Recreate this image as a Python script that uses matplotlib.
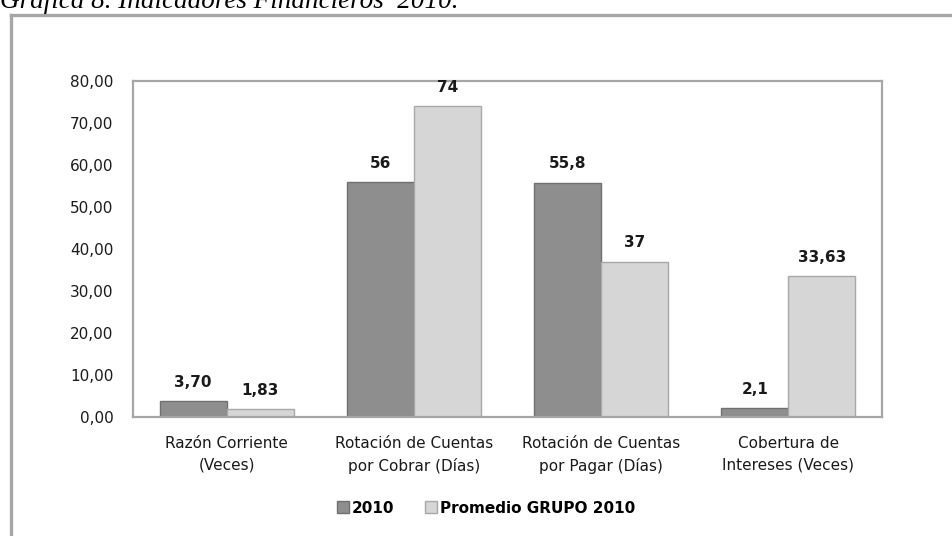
import matplotlib.pyplot as plt
import numpy as np
from matplotlib.lines import Line2D
from matplotlib.patches import Patch
from matplotlib.ticker import FuncFormatter

plt.rcParams['font.family'] = ['DejaVu Sans']

# Datos de la gráfica
categorias = ["Razón Corriente\n(Veces)",
              "Rotación de Cuentas\npor Cobrar (Días)",
              "Rotación de Cuentas\npor Pagar (Días)",
              "Cobertura de\nIntereses (Veces)"]
serie_2010 = [3.70, 56, 55.8, 2.1]
serie_grupo = [1.83, 74, 37, 33.63]
etiquetas_2010 = ["3,70", "56", "55,8", "2,1"]
etiquetas_grupo = ["1,83", "74", "37", "33,63"]
nombres_series = ["2010", "Promedio GRUPO 2010"]

color_oscuro = "#8e8e8e"
color_claro = "#d6d6d6"
borde = "#a6a6a6"

fig = plt.figure(figsize=(9.53, 5.36), dpi=100)
ax = fig.add_axes([0.1396, 0.222, 0.7859, 0.627])

x = np.arange(len(categorias))
ancho = 0.358

b1 = ax.bar(x - ancho / 2, serie_2010, ancho, color=color_oscuro,
            edgecolor="#707070", linewidth=1.0)
b2 = ax.bar(x + ancho / 2, serie_grupo, ancho, color=color_claro,
            edgecolor="#a8a8a8", linewidth=1.0)

# Etiquetas de valor sobre cada barra
for barras, etiquetas in [(b1, etiquetas_2010), (b2, etiquetas_grupo)]:
    for barra, texto in zip(barras, etiquetas):
        ax.annotate(texto, (barra.get_x() + barra.get_width() / 2, barra.get_height()),
                    xytext=(0, 8), textcoords="offset points", ha="center",
                    va="bottom", fontsize=11, fontweight="bold", color="#1a1a1a")

ax.set_xlim(-0.5, len(categorias) - 0.5)
ax.set_ylim(0, 80)
ax.set_yticks(np.arange(0, 81, 10))
ax.yaxis.set_major_formatter(FuncFormatter(lambda v, p: f"{v:.2f}".replace(".", ",")))
ax.set_xticks(x)
ax.set_xticklabels(categorias, linespacing=1.5)
ax.tick_params(axis="both", length=0, labelsize=11, colors="#1a1a1a")
ax.tick_params(axis="y", pad=14)
ax.tick_params(axis="x", pad=14)

for s in ax.spines.values():
    s.set_color(borde)
    s.set_linewidth(1.6)

# Leyenda
manijas = [Patch(facecolor=color_oscuro, edgecolor="#707070"),
           Patch(facecolor=color_claro, edgecolor="#a8a8a8")]
fig.legend(manijas, nombres_series, loc="center", bbox_to_anchor=(0.51, 0.052),
           ncol=2, frameon=False, handlelength=0.8, handleheight=0.8,
           handletextpad=0.2, columnspacing=2.0,
           prop={"weight": "bold", "size": 11})

# Marco exterior y título cortado (como en la imagen original)
y_marco = 1 - 14.5 / 536
x_marco = 10.5 / 953
fig.add_artist(Line2D([x_marco, x_marco], [0, y_marco], color=borde, lw=2.4))
fig.add_artist(Line2D([x_marco, 1], [y_marco, y_marco], color=borde, lw=2.4))
fig.text(0.0, 1 - 7.5 / 536, "Gráfica 8. Indicadores Financieros  2010.",
         fontsize=19.5, family="Liberation Serif", style="italic", va="baseline",
         ha="left")

fig.savefig("out.png", dpi=100)
